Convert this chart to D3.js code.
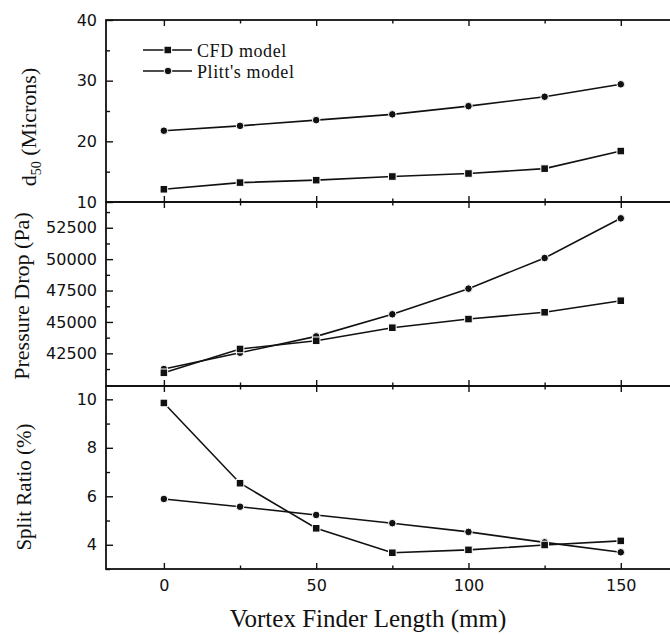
<!DOCTYPE html>
<html>
<head>
<meta charset="utf-8">
<script src="https://cdn.jsdelivr.net/npm/d3@7"></script>
<style>
body { margin:0; background:#fff; }
svg { display:block; }
</style>
</head>
<body>
<script>
var lengths = [0, 25, 50, 75, 100, 125, 150];

var d50Cfd = [12.1, 13.2, 13.6, 14.2, 14.7, 15.5, 18.4];
var d50Plitt = [21.75, 22.55, 23.5, 24.45, 25.8, 27.35, 29.4];
var dropCfd = [40950, 42850, 43500, 44540, 45230, 45770, 46690];
var dropPlitt = [41250, 42550, 43850, 45610, 47650, 50090, 53250];
var splitCfd = [9.85, 6.54, 4.68, 3.67, 3.79, 3.99, 4.16];
var splitPlitt = [5.89, 5.57, 5.23, 4.89, 4.53, 4.10, 3.69];

var d50Ticks = [10, 20, 30, 40];
var d50Minor = [15, 25, 35];
var dropTicks = [42500, 45000, 47500, 50000, 52500];
var dropMinor = [41250, 43750, 46250, 48750, 51250, 53750];
var splitTicks = [4, 6, 8, 10];
var splitMinor = [3, 5, 7, 9];
var xTicks = [0, 50, 100, 150];
var xMinor = [25, 75, 125];

var seriesNames = ["CFD model", "Plitt's model"];

var ink = "#111";

var svg = d3.select("body").append("svg")
    .attr("width", 670)
    .attr("height", 635);

var x = d3.scaleLinear()
    .domain([-19, 170])
    .range([106, 681.7]);

var panels = [
    {top:20, bottom:202, domain:[10, 40], ticks:d50Ticks, minor:d50Minor, cfd:d50Cfd, plitt:d50Plitt},
    {top:202, bottom:386, domain:[39900, 54550], ticks:dropTicks, minor:dropMinor, cfd:dropCfd, plitt:dropPlitt},
    {top:386, bottom:569, domain:[3, 10.55], ticks:splitTicks, minor:splitMinor, cfd:splitCfd, plitt:splitPlitt}
];

function styleAxis(g) {
    g.select(".domain").remove();
    g.selectAll("line").attr("stroke", ink).attr("stroke-width", 1.4);
    g.selectAll("text")
        .attr("fill", ink)
        .style("font-family", "'DejaVu Sans', sans-serif")
        .style("font-size", "16px");
}

panels.forEach(function(p, idx) {
    var y = d3.scaleLinear().domain(p.domain).range([p.bottom, p.top]);

    svg.append("g")
        .attr("transform", "translate(106,0)")
        .call(d3.axisLeft(y).tickValues(p.ticks).tickSize(-7).tickPadding(9).tickFormat(d3.format("d")))
        .call(styleAxis);
    svg.append("g")
        .attr("transform", "translate(106,0)")
        .call(d3.axisLeft(y).tickValues(p.minor).tickSize(-4).tickFormat(""))
        .call(styleAxis);

    var last = idx == panels.length - 1;
    svg.append("g")
        .attr("transform", "translate(0," + p.bottom + ")")
        .call(d3.axisBottom(x).tickValues(xTicks).tickSize(-6).tickPadding(11).tickFormat(last ? d3.format("d") : ""))
        .call(styleAxis);
    svg.append("g")
        .attr("transform", "translate(0," + p.bottom + ")")
        .call(d3.axisBottom(x).tickValues(xMinor).tickSize(-3.5).tickFormat(""))
        .call(styleAxis);
    svg.append("g")
        .attr("transform", "translate(0," + p.top + ")")
        .call(d3.axisTop(x).tickValues(xTicks).tickSize(-6).tickFormat(""))
        .call(styleAxis);
    svg.append("g")
        .attr("transform", "translate(0," + p.top + ")")
        .call(d3.axisTop(x).tickValues(xMinor).tickSize(-3.5).tickFormat(""))
        .call(styleAxis);

    svg.append("rect")
        .attr("x", x.range()[0])
        .attr("y", p.top)
        .attr("width", x.range()[1] - x.range()[0])
        .attr("height", p.bottom - p.top)
        .attr("fill", "none")
        .attr("stroke", ink)
        .attr("stroke-width", 1.8);

    var line = d3.line()
        .x(function(d, i) { return x(lengths[i]); })
        .y(function(d) { return y(d); });

    [p.plitt, p.cfd].forEach(function(vals) {
        svg.append("path")
            .datum(vals)
            .attr("fill", "none")
            .attr("stroke", ink)
            .attr("stroke-width", 1.6)
            .attr("d", line);
    });

    svg.selectAll(null)
        .data(p.plitt)
        .enter().append("circle")
        .attr("cx", function(d, i) { return x(lengths[i]); })
        .attr("cy", function(d) { return y(d); })
        .attr("r", 3.8)
        .attr("fill", ink)
        .attr("stroke", "#fff")
        .attr("stroke-width", 1);

    svg.selectAll(null)
        .data(p.cfd)
        .enter().append("rect")
        .attr("x", function(d, i) { return x(lengths[i]) - 3.8; })
        .attr("y", function(d) { return y(d) - 3.8; })
        .attr("width", 7.6)
        .attr("height", 7.6)
        .attr("fill", ink)
        .attr("stroke", "#fff")
        .attr("stroke-width", 1);
});

// legend
var legend = svg.append("g");
seriesNames.forEach(function(name, i) {
    var ly = 50 + i * 21;
    legend.append("line")
        .attr("x1", 143).attr("x2", 192)
        .attr("y1", ly).attr("y2", ly)
        .attr("stroke", ink)
        .attr("stroke-width", 1.6);
    if (i == 0) {
        legend.append("rect")
            .attr("x", 164).attr("y", ly - 3.8)
            .attr("width", 7.6).attr("height", 7.6)
            .attr("fill", ink).attr("stroke", "#fff").attr("stroke-width", 1);
    } else {
        legend.append("circle")
            .attr("cx", 168).attr("cy", ly).attr("r", 3.8)
            .attr("fill", ink).attr("stroke", "#fff").attr("stroke-width", 1);
    }
    legend.append("text")
        .attr("x", 197)
        .attr("y", ly + 6.5)
        .attr("fill", ink)
        .style("font-family", "'Liberation Serif', serif")
        .style("font-size", "18px")
        .style("letter-spacing", "0.6px")
        .text(name);
});

// axis titles
function serifText(sel, size) {
    return sel.attr("fill", ink)
        .style("font-family", "'Liberation Serif', serif")
        .style("font-size", size + "px");
}

var d50Title = svg.append("text")
    .attr("transform", "translate(36,127) rotate(-90)")
    .attr("text-anchor", "middle")
    .call(serifText, 22);
d50Title.append("tspan").text("d");
d50Title.append("tspan").attr("dy", 5).style("font-size", "14px").text("50");
d50Title.append("tspan").attr("dy", -5).text(" (Microns)");

svg.append("text")
    .attr("transform", "translate(29,296) rotate(-90)")
    .attr("text-anchor", "middle")
    .call(serifText, 22)
    .text("Pressure Drop (Pa)");

svg.append("text")
    .attr("transform", "translate(30.5,487) rotate(-90)")
    .attr("text-anchor", "middle")
    .call(serifText, 21)
    .text("Split Ratio (%)");

svg.append("text")
    .attr("x", 368)
    .attr("y", 627)
    .attr("text-anchor", "middle")
    .call(serifText, 25)
    .text("Vortex Finder Length (mm)");
</script>
</body>
</html>
